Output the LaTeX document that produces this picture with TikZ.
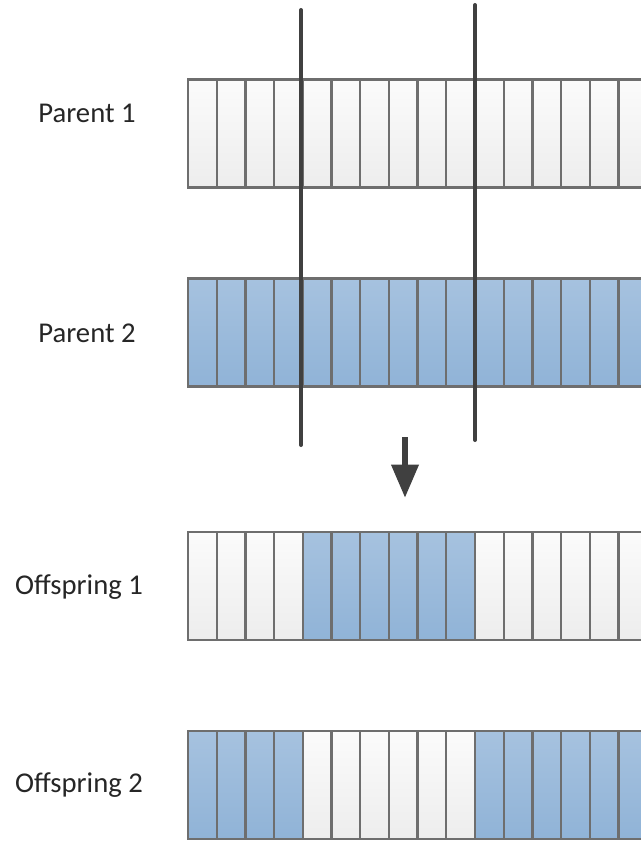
\documentclass[tikz,border=0pt]{standalone}
\usepackage{fontspec}
\setmainfont{Carlito}
\usetikzlibrary{arrows.meta}

\definecolor{gridline}{HTML}{6E6E6E}
\definecolor{cutline}{HTML}{404040}
\definecolor{genetop}{HTML}{FBFBFB}
\definecolor{genebot}{HTML}{EDEDED}
\definecolor{bluetop}{HTML}{A6C2DF}
\definecolor{bluebot}{HTML}{90B3D7}

\begin{document}
\begin{tikzpicture}[x=0.75pt, y=-0.75pt, >=stealth]
    % Styles
    \tikzstyle{gene} = [rectangle, draw=gridline, line width=1.7pt, inner sep=0pt, minimum width=21.5pt, minimum height=81pt, top color=genetop, bottom color=genebot]
    \tikzstyle{bluegene} = [gene, top color=bluetop, bottom color=bluebot]
    \tikzstyle{rowlabel} = [font=\fontsize{21.5}{24}\selectfont, text=black!85]
    \tikzstyle{cut} = [line width=3pt, draw=cutline, line cap=round]

    \useasboundingbox (0,0) rectangle (641,849);
    \clip (0,0) rectangle (641,849);

    % Labels
    \node[rowlabel] (lp1) at (87,113) {Parent 1};
    \node[rowlabel] (lp2) at (87,333) {Parent 2};
    \node[rowlabel] (lo1) at (79,587) {Offspring 1};
    \node[rowlabel] (lo2) at (79,785) {Offspring 2};

    % Parents
    \foreach \i in {0,...,16} {
        \node[gene] (p1c\i) at ({202.35+\i*28.7}, 133.5) {};
        \node[bluegene] (p2c\i) at ({202.35+\i*28.7}, 332.5) {};
    }

    % Offspring
    \foreach \i in {0,1,2,3,10,11,12,13,14,15,16} {
        \node[gene] (o1c\i) at ({202.35+\i*28.7}, 586) {};
        \node[bluegene] (o2c\i) at ({202.35+\i*28.7}, 785) {};
    }
    \foreach \i in {4,...,9} {
        \node[bluegene] (o1c\i) at ({202.35+\i*28.7}, 586) {};
        \node[gene] (o2c\i) at ({202.35+\i*28.7}, 785) {};
    }

    % Crossover points
    \coordinate (cutAtop) at (301,10);
    \coordinate (cutAbot) at (301,445);
    \coordinate (cutBtop) at (475,5);
    \coordinate (cutBbot) at (475,440);
    \draw[cut] (cutAtop) -- (cutAbot);
    \draw[cut] (cutBtop) -- (cutBbot);

    % Arrow
    \coordinate (arrtop) at (405,437);
    \coordinate (arrbot) at (405,498);
    \draw[-{Triangle[width=19.5pt,length=25pt]}, line width=5pt, cutline] (arrtop) -- (arrbot);

\end{tikzpicture}
\end{document}
